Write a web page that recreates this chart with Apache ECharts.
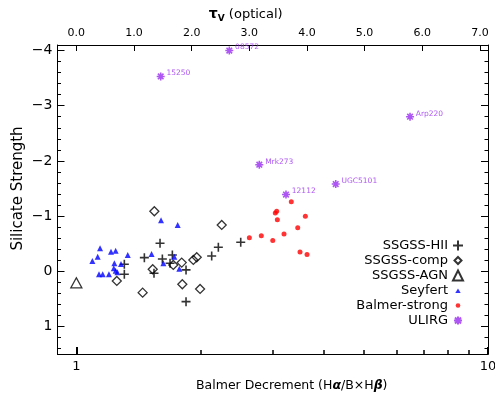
<!DOCTYPE html>
<html><head><meta charset="utf-8">
<script src="https://cdn.jsdelivr.net/npm/echarts@6/dist/echarts.min.js"></script>
<style>html,body{margin:0;padding:0;background:#fff}#c{width:495px;height:401px}</style>
</head><body><div id="c"></div><script>
// ---- data (Balmer decrement, silicate strength) ----
const hiiBD = [1.308, 1.308, 1.463, 1.597, 1.618, 1.544, 1.711, 1.689, 1.847, 1.847, 2.132, 2.213, 2.508];
const hiiSS = [-0.127, 0.054, -0.246, -0.507, -0.223, 0.036, -0.295, -0.145, -0.024, 0.551, -0.277, -0.435, -0.526];
const compBD = [1.254, 1.533, 1.547, 1.720, 1.803, 1.924, 1.961, 1.809, 1.998, 1.449, 2.255];
const compSS = [0.176, -0.036, -1.087, -0.114, -0.156, -0.205, -0.254, 0.236, 0.321, 0.388, -0.839];
const agnBD = [1.0];
const agnSS = [0.21];
const seyBD = [1.094, 1.127, 1.142, 1.214, 1.246, 1.333, 1.237, 1.135, 1.159, 1.200, 1.233, 1.246, 1.258, 1.523, 1.606, 1.763, 1.730, 1.627, 1.779, 1.284];
const seySS = [-0.187, -0.264, -0.416, -0.355, -0.373, -0.295, -0.145, 0.054, 0.054, 0.054, -0.054, -0.011, 0.018, -0.313, -0.923, -0.840, -0.264, -0.145, -0.047, -0.132];
const balBD = [2.632, 2.814, 3.000, 3.195, 3.043, 3.067, 3.078, 3.328, 3.600, 3.450, 3.494, 3.634];
const balSS = [-0.609, -0.645, -0.555, -0.676, -1.057, -1.087, -0.935, -1.261, -0.997, -0.790, -0.350, -0.301];
const ulirgBD = [2.353, 1.603, 6.466, 2.783, 4.267, 3.231];
const ulirgSS = [-4.00, -3.53, -2.80, -1.93, -1.58, -1.39];
const ulirgNames = ['08572', '15250', 'Arp220', 'Mrk273', 'UGC5101', '12112'];
const legendNames = ['SSGSS-HII', 'SSGSS-comp', 'SSGSS-AGN', 'Seyfert', 'Balmer-strong', 'ULIRG'];
const bdMajorTicks = [1, 10];
const bdMinorTicks = [2, 3, 4, 5, 6, 7, 8, 9];
const bdMin = 0.9, bdMax = 10;

const pairs = (a, b) => a.map((v, i) => [v, b[i]]);
const FONT = 'DejaVu Sans';
const PURPLE = '#9a2cf0';
const MINUS = '\u2212';

const chart = echarts.init(document.getElementById('c'));
const baseY = {
  type: 'value', inverse: true, min: -4.1, max: 1.5, splitNumber: 5,
  axisLine: { show: true, onZero: false, lineStyle: { color: '#000', width: 1 } },
  axisTick: { show: true, inside: true, length: 7, lineStyle: { color: '#000' } },
  minorTick: { show: true, splitNumber: 5, length: 3.5, lineStyle: { color: '#000' } },
  splitLine: { show: false }, minorSplitLine: { show: false }
};
chart.setOption({
  animation: false,
  backgroundColor: '#fff',
  textStyle: { fontFamily: FONT },
  grid: { left: 57.5, right: 7, top: 45, bottom: 47, containLabel: false, outerBoundsMode: 'none' },
  legend: {
    orient: 'vertical', align: 'right', right: 26, top: 234,
    itemWidth: 10, itemHeight: 10, itemGap: 2,
    textStyle: { fontFamily: FONT, fontSize: 13, color: '#000' },
    data: [
      { name: legendNames[0] },
      { name: legendNames[1], icon: 'path://M0,0M10,10M5,1.5L8.5,5L5,8.5L1.5,5Z' },
      { name: legendNames[2] },
      { name: legendNames[3], icon: 'path://M0,0M10,10M5,3L7.7,7.5L2.3,7.5Z' },
      { name: legendNames[4], icon: 'path://M0,0M10,10M7.3,5A2.3,2.3,0,1,1,2.7,5A2.3,2.3,0,1,1,7.3,5Z' },
      { name: legendNames[5], icon: 'path://M0,0M10,10M5,1L5,9M1,5L9,5M2,2L8,8M8,2L2,8' }
    ]
  },
  xAxis: [
    {
      type: 'log', logBase: 10, min: bdMin, max: bdMax, position: 'bottom',
      name: 'Balmer Decrement (H{g|α}/B×H{g|β})', nameLocation: 'middle', nameGap: 25, nameMoveOverlap: false,
      nameTextStyle: { fontFamily: FONT, fontSize: 12.5, color: '#000', padding: [0, 0, 0, 38],
        rich: { g: { fontFamily: FONT, fontSize: 12.5, fontWeight: 'bold', fontStyle: 'italic', color: '#000' } } },
      axisLine: { show: true, onZero: false, lineStyle: { color: '#000', width: 1 } },
      axisTick: { show: true, inside: true, length: 7, customValues: bdMajorTicks, lineStyle: { color: '#000', width: 2 } },
      axisLabel: { color: '#000', fontSize: 13, margin: 6, fontFamily: FONT, customValues: bdMajorTicks,
        formatter: v => String(Math.round(v)) },
      splitLine: { show: false }, minorTick: { show: false }
    },
    {
      type: 'log', logBase: 10, min: bdMin, max: bdMax, position: 'bottom',
      axisLine: { show: true, onZero: false, lineStyle: { color: '#000', width: 1 } },
      axisTick: { show: true, inside: true, length: 4, customValues: bdMinorTicks, lineStyle: { color: '#000', width: 1.5 } },
      axisLabel: { show: true, customValues: bdMinorTicks, color: 'rgba(0,0,0,0)' },
      splitLine: { show: false }
    },
    {
      type: 'value', min: -0.327, max: 7.14, splitNumber: 7, position: 'top',
      name: '{t|τ}{s|V} (optical)', nameLocation: 'middle', nameGap: 22, nameMoveOverlap: false,
      nameTextStyle: { fontFamily: FONT, fontSize: 13, color: '#000', padding: [0, 54, 0, 0],
        rich: { t: { fontFamily: FONT, fontSize: 14, fontWeight: 'bold', color: '#000' },
                s: { fontFamily: FONT, fontSize: 9, fontWeight: 'bold', color: '#000', padding: [8, 0, 0, 0] } } },
      axisLine: { show: true, onZero: false, lineStyle: { color: '#000', width: 1 } },
      axisTick: { show: true, inside: true, length: 6, lineStyle: { color: '#000' } },
      axisLabel: { color: '#000', fontSize: 11, margin: 6, fontFamily: FONT,
        formatter: v => Math.abs(v - Math.round(v)) < 1e-6 ? v.toFixed(1) : '' },
      splitLine: { show: false }
    }
  ],
  yAxis: [
    Object.assign({}, baseY, {
      position: 'left',
      name: 'Silicate Strength', nameLocation: 'middle', nameGap: 32, nameRotate: 90, nameMoveOverlap: false,
      nameTextStyle: { fontFamily: FONT, fontSize: 15, color: '#000', padding: [0, 0, 0, 22] },
      axisLabel: { color: '#000', fontSize: 14, margin: 5, fontFamily: FONT,
        formatter: v => Math.abs(v - Math.round(v)) < 1e-9 ? (v < 0 ? MINUS + Math.abs(Math.round(v)) : String(Math.round(v))) : '' }
    }),
    Object.assign({}, baseY, { position: 'right', axisLabel: { show: false } })
  ],
  series: [
    { name: legendNames[0], type: 'scatter', xAxisIndex: 0, yAxisIndex: 0, data: pairs(hiiBD, hiiSS),
      symbol: 'path://M0,5L10,5M5,0L5,10', symbolSize: 9,
      itemStyle: { color: '#000', borderColor: '#000', borderWidth: 1.6 } },
    { name: legendNames[1], type: 'scatter', data: pairs(compBD, compSS),
      symbol: 'diamond', symbolSize: 9,
      itemStyle: { color: 'rgba(0,0,0,0)', borderColor: '#000', borderWidth: 1.3 } },
    { name: legendNames[2], type: 'scatter', data: pairs(agnBD, agnSS),
      symbol: 'triangle', symbolSize: [11, 10],
      itemStyle: { color: 'rgba(0,0,0,0)', borderColor: '#000', borderWidth: 1.3 } },
    { name: legendNames[3], type: 'scatter', data: pairs(seyBD, seySS),
      symbol: 'triangle', symbolSize: [6, 6],
      itemStyle: { color: '#0000ff' } },
    { name: legendNames[4], type: 'scatter', data: pairs(balBD, balSS),
      symbol: 'circle', symbolSize: 5,
      itemStyle: { color: '#ff0000' } },
    { name: legendNames[5], type: 'scatter',
      data: ulirgBD.map((v, i) => ({ value: [v, ulirgSS[i]], name: ulirgNames[i] })),
      symbol: 'path://M5,0L5,10M0,5L10,5M1.5,1.5L8.5,8.5M8.5,1.5L1.5,8.5', symbolSize: 8,
      itemStyle: { color: PURPLE, borderColor: PURPLE, borderWidth: 1.6 },
      label: { show: true, position: 'right', distance: 1, offset: [0, -3], formatter: '{b}',
        color: PURPLE, fontSize: 7.5, fontFamily: FONT } }
  ]
});
</script></body></html>
